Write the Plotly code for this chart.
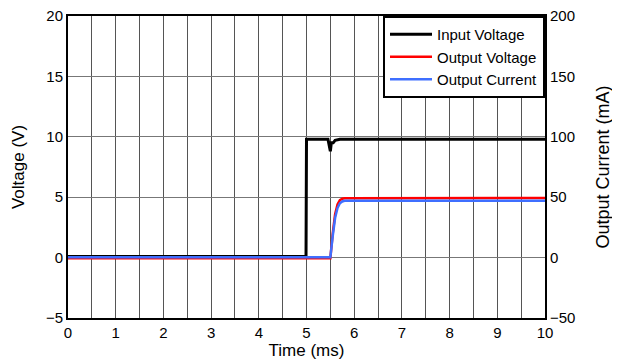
import plotly.graph_objects as go

# Input voltage (V)
t_in = [0, 4.99, 5.0, 5.45, 5.5, 5.52, 5.56, 5.6, 5.7, 10]
v_in = [0.1, 0.1, 9.8, 9.8, 8.8, 9.5, 9.5, 9.7, 9.8, 9.8]

# Output voltage (V)
t_out = [0, 5.5, 5.55, 5.6, 5.65, 5.7, 5.75, 5.8, 10]
v_out = [-0.05, -0.05, 2.0, 3.6, 4.4, 4.75, 4.88, 4.92, 4.93]

# Output current (mA)
i_out = [0.2, 0.2, 18, 33, 41, 45, 46.5, 47, 47]

fig = go.Figure()
fig.add_trace(go.Scatter(x=t_in, y=v_in, mode="lines", name="Input Voltage",
                         line=dict(color="black", width=3)))
fig.add_trace(go.Scatter(x=t_out, y=v_out, mode="lines", name="Output Voltage",
                         line=dict(color="#ff0000", width=2.5)))
fig.add_trace(go.Scatter(x=t_out, y=i_out, mode="lines", name="Output Current",
                         line=dict(color="#3f6fff", width=2.5), yaxis="y2"))

font = dict(family="Liberation Sans, Arial, sans-serif", color="black")
fig.update_layout(
    width=612, height=352,
    margin=dict(l=60, r=75, t=8, b=42, autoexpand=False),
    paper_bgcolor="white", plot_bgcolor="white",
    font=dict(size=15, **font),
    xaxis=dict(range=[0, 10], dtick=1, tick0=0, showgrid=True, gridcolor="#555555", gridwidth=1,
               minor=dict(dtick=0.5, showgrid=True, gridcolor="#555555", gridwidth=1),
               showline=True, linecolor="black", linewidth=2, mirror=True, automargin=False,
               zeroline=False, ticks="", tickfont=dict(size=15),
               title=dict(text="Time (ms)", font=dict(size=17), standoff=0)),
    yaxis=dict(range=[-5, 20], dtick=5, showgrid=True, gridcolor="#777777", gridwidth=1,
               showline=True, linecolor="black", linewidth=2, mirror=True, automargin=False,
               zeroline=False, ticks="", tickfont=dict(size=15), ticklabeloverflow="allow",
               title=dict(text="Voltage (V)", font=dict(size=17), standoff=17)),
    yaxis2=dict(range=[-50, 200], dtick=50, overlaying="y", side="right", automargin=False,
                showgrid=False, zeroline=False, showline=True, linecolor="black", linewidth=2,
                ticks="", tickfont=dict(size=15), ticklabeloverflow="allow",
                title=dict(text="Output Current (mA)", font=dict(size=18), standoff=22)),
    legend=dict(x=1, xanchor="right", y=1, yanchor="top", bgcolor="white",
                bordercolor="black", borderwidth=2, font=dict(size=15),
                tracegroupgap=0, itemwidth=42),
    showlegend=True,
)

fig.write_html("out.html")
